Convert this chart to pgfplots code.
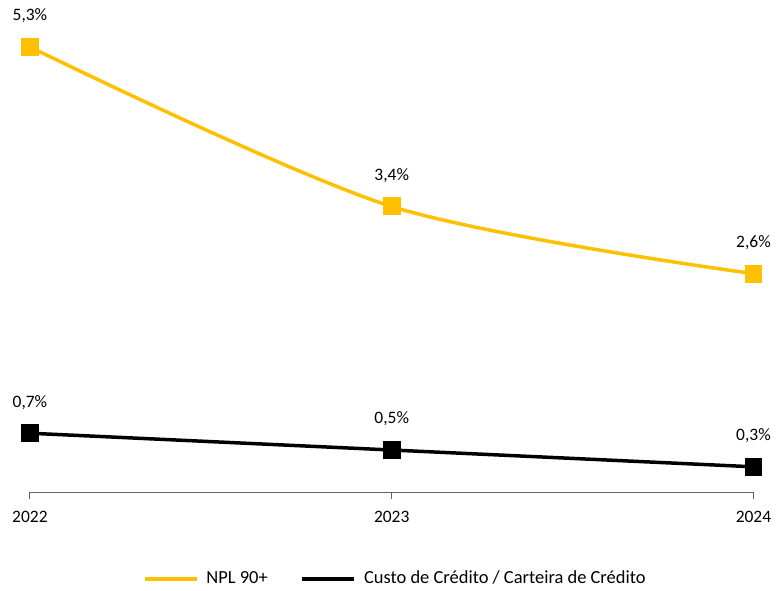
\documentclass[border=0pt]{standalone}
\usepackage{pgfplots}
\pgfplotsset{compat=1.18}
\usepackage{fontspec}
\setmainfont{Carlito}
\definecolor{npl}{RGB}{255,192,0}
\definecolor{axgray}{RGB}{100,100,100}
\begin{document}
\fontsize{17.5}{21}\selectfont
\begin{tikzpicture}
\begin{axis}[
  scale only axis,
  width=725pt, height=446pt,
  xmin=2022, xmax=2024,
  ymin=0, ymax=5.3,
  clip=false,
  axis x line*=bottom,
  axis y line=none,
  axis line style={axgray, line width=1pt, -},
  xtick={2022,2023,2024},
  xticklabels={2022,2023,2024},
  ytick=\empty,
  tick align=outside,
  major tick length=7pt,
  tick style={axgray, line width=1pt},
  xticklabel style={yshift=-6pt},
  font=\fontsize{17.5}{21}\selectfont,
  legend style={at={(0.505,-0.195)}, anchor=center, draw=none, fill=none,
    legend columns=2, font=\fontsize{18.5}{22}\selectfont,
    /tikz/every even column/.style={column sep=31pt}},
  legend image code/.code={\draw[#1,mark=none] (0pt,0pt) -- (52pt,0pt); \path (58pt,0pt);},
  nodes near coords,
  point meta=explicit symbolic,
  every node near coord/.append style={anchor=center, yshift=31pt, text=black, font=\fontsize{17.5}{21}\selectfont},
]
\addplot[npl, line width=3.5pt, smooth, tension=0.5, mark=square*, mark size=8.5pt, mark options={solid, fill=npl, draw=npl, line width=0pt}]
  coordinates {(2022,5.3) [{5,3\%}] (2023,3.4) [{3,4\%}] (2024,2.6) [{2,6\%}]};
\addlegendentry{NPL 90+}
\addplot[black, line width=3.5pt, smooth, tension=0.5, mark=square*, mark size=8.5pt, mark options={solid, fill=black, draw=black, line width=0pt}]
  coordinates {(2022,0.7) [{0,7\%}] (2023,0.5) [{0,5\%}] (2024,0.3) [{0,3\%}]};
\addlegendentry{Custo de Crédito / Carteira de Crédito}
\end{axis}
\path (-30pt,-97pt) rectangle (747pt,493pt);
\end{tikzpicture}
\end{document}
